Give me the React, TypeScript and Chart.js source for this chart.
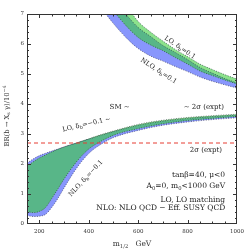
import React, { useEffect, useRef } from "react";
import { Chart, registerables } from "chart.js";
Chart.register(...registerables);

// ---- data ----
const upperX = [450, 500, 550, 600, 650, 700, 750, 800, 850, 900, 950, 1000];
const upperNloLow = [7.2, 6.68, 6.22, 5.85, 5.6, 5.43, 5.25, 5.08, 4.9, 4.76, 4.64, 4.53];
const upperNloHigh = [7.9, 7.45, 6.99, 6.55, 6.25, 5.95, 5.72, 5.48, 5.22, 5.03, 4.85, 4.7];
const upperLoLow = [7.6, 7.1, 6.62, 6.22, 5.97, 5.78, 5.55, 5.33, 5.1, 4.95, 4.8, 4.67];
const upperLoHigh = [8.2, 7.8, 7.3, 6.75, 6.4, 6.1, 5.82, 5.58, 5.33, 5.15, 4.98, 4.83];

const lowerX = [150, 175, 200, 225, 250, 275, 300, 350, 400, 450, 500, 600, 700, 800, 900, 1000];
const lowerNloLow = [0.28, 0.25, 0.26, 0.32, 0.55, 0.85, 1.2, 1.85, 2.35, 2.66, 2.88, 3.12, 3.29, 3.4, 3.48, 3.54];
const lowerNloHigh = [2.03, 2.17, 2.28, 2.36, 2.43, 2.5, 2.57, 2.7, 2.83, 2.96, 3.08, 3.29, 3.43, 3.52, 3.58, 3.63];
const lowerLoLow = [0.42, 0.38, 0.42, 0.55, 0.85, 1.17, 1.5, 2.07, 2.5, 2.76, 2.96, 3.18, 3.34, 3.45, 3.52, 3.58];
const lowerLoHigh = [1.93, 2.07, 2.2, 2.3, 2.4, 2.49, 2.57, 2.7, 2.84, 2.98, 3.1, 3.32, 3.46, 3.55, 3.61, 3.66];

const expt2Sigma = 2.7;
const xRange = [150, 1000];
const yRange = [0, 7];
const xTickLabels = [200, 400, 600, 800, 1000];
const yTickLabels = [0, 1, 2, 3, 4, 5, 6, 7];

const BLUE = "rgb(136,150,252)";
const LIGHTGREEN = "rgb(140,226,140)";
const DARKGREEN = "rgb(88,182,136)";
const SERIF = "'DejaVu Serif', serif";

type Seg = { t: string; s?: "sub" | "sup" };

function pts(xs: number[], ys: number[]) {
  return xs.map((x, i) => ({ x, y: ys[i] }));
}

function band(xs: number[], lo: number[], hi: number[], color: string, order: number, base: number) {
  return [
    { data: pts(xs, lo), borderWidth: 0, pointRadius: 0, fill: false, order, cubicInterpolationMode: "monotone" },
    {
      data: pts(xs, hi),
      borderWidth: 0,
      pointRadius: 0,
      fill: { target: base },
      backgroundColor: color,
      order,
      cubicInterpolationMode: "monotone",
    },
  ];
}

function dotted(xs: number[], ys: number[]) {
  return {
    data: pts(xs, ys),
    borderWidth: 0.8,
    borderColor: "rgba(20,20,50,0.7)",
    borderDash: [1, 1.5],
    pointRadius: 0,
    fill: false,
    order: 1,
    cubicInterpolationMode: "monotone",
  };
}

function segFont(size: number, s?: string) {
  return `${s ? size * 0.7 : size}px ${SERIF}`;
}
function richWidth(ctx: CanvasRenderingContext2D, segs: Seg[], size: number) {
  let w = 0;
  for (const g of segs) {
    ctx.font = segFont(size, g.s);
    w += ctx.measureText(g.t).width;
  }
  return w;
}
function drawRich(ctx: CanvasRenderingContext2D, segs: Seg[], x: number, y: number, size: number, align: "left" | "center" | "right") {
  const w = richWidth(ctx, segs, size);
  let cx = align === "left" ? x : align === "center" ? x - w / 2 : x - w;
  ctx.textAlign = "left";
  ctx.textBaseline = "middle";
  for (const g of segs) {
    ctx.font = segFont(size, g.s);
    const dy = g.s === "sub" ? size * 0.3 : g.s === "sup" ? -size * 0.35 : 0;
    ctx.fillText(g.t, cx, y + dy);
    cx += ctx.measureText(g.t).width;
  }
}

const notes: { segs: Seg[]; x: number; y: number; rot: number; size: number; align?: "left" | "center" | "right" }[] = [
  { segs: [{ t: "LO, δ" }, { t: "b", s: "sub" }, { t: "=0.1" }], x: 769, y: 5.88, rot: 34, size: 6.5 },
  { segs: [{ t: "NLO, δ" }, { t: "b", s: "sub" }, { t: "=0.1" }], x: 683, y: 5.1, rot: 33, size: 6.5 },
  { segs: [{ t: "LO, δ" }, { t: "b", s: "sub" }, { t: "=−0.1 ~" }], x: 391, y: 3.32, rot: -13, size: 6.5 },
  { segs: [{ t: "NLO, δ" }, { t: "b", s: "sub" }, { t: "=−0.1" }], x: 388, y: 1.52, rot: -47, size: 6.5 },
  { segs: [{ t: "SM ~" }], x: 525, y: 3.9, rot: 0, size: 7 },
  { segs: [{ t: "~ 2σ (expt)" }], x: 866, y: 3.9, rot: 0, size: 7 },
  { segs: [{ t: "2σ (expt)" }], x: 874, y: 2.47, rot: 0, size: 7 },
  { segs: [{ t: "tanβ=40, μ<0" }], x: 952, y: 1.63, rot: 0, size: 7.5, align: "right" },
  { segs: [{ t: "A" }, { t: "0", s: "sub" }, { t: "=0, m" }, { t: "0", s: "sub" }, { t: "<1000 GeV" }], x: 952, y: 1.27, rot: 0, size: 7.5, align: "right" },
  { segs: [{ t: "LO, LO matching" }], x: 952, y: 0.8, rot: 0, size: 7.5, align: "right" },
  { segs: [{ t: "NLO: NLO QCD − Eff. SUSY QCD" }], x: 952, y: 0.52, rot: 0, size: 7.5, align: "right" },
];

const decor = {
  id: "decor",
  afterDatasetsDraw(chart: any) {
    const { ctx, chartArea: a, scales } = chart;
    const xs = scales.x;
    const ys = scales.y;
    ctx.save();
    ctx.strokeStyle = "#333";
    ctx.lineWidth = 1;
    ctx.strokeRect(Math.round(a.left) + 0.5, Math.round(a.top) + 0.5, Math.round(a.right - a.left) - 1, Math.round(a.bottom - a.top) - 1);
    for (let v = 200; v < 1000; v += 50) {
      const px = Math.round(xs.getPixelForValue(v)) + 0.5;
      const len = v % 200 === 0 ? 4 : 2.5;
      ctx.beginPath();
      ctx.moveTo(px, a.bottom);
      ctx.lineTo(px, a.bottom - len);
      ctx.moveTo(px, a.top);
      ctx.lineTo(px, a.top + len);
      ctx.stroke();
    }
    for (let k = 1; k < 35; k++) {
      const v = k * 0.2;
      const py = Math.round(ys.getPixelForValue(v)) + 0.5;
      const len = k % 5 === 0 ? 4 : 2;
      ctx.beginPath();
      ctx.moveTo(a.left, py);
      ctx.lineTo(a.left + len, py);
      ctx.moveTo(a.right, py);
      ctx.lineTo(a.right - len, py);
      ctx.stroke();
    }
    ctx.fillStyle = "#222";
    for (const n of notes) {
      const px = xs.getPixelForValue(n.x);
      const py = ys.getPixelForValue(n.y);
      ctx.save();
      ctx.translate(px, py);
      ctx.rotate((n.rot * Math.PI) / 180);
      drawRich(ctx, n.segs, 0, 0, n.size, n.align || "center");
      ctx.restore();
    }
    ctx.fillStyle = "#333";
    drawRich(ctx, [{ t: "m" }, { t: "1/2", s: "sub" }, { t: "   GeV" }], (a.left + a.right) / 2, a.bottom + 20, 7.5, "center");
    ctx.save();
    ctx.translate(a.left - 20, 116);
    ctx.rotate(-Math.PI / 2);
    drawRich(ctx, [{ t: "BR(b → X" }, { t: "s", s: "sub" }, { t: " γ)/10" }, { t: "−4", s: "sup" }], 0, 0, 6.8, "center");
    ctx.restore();
    ctx.restore();
  },
};

export default function App() {
  const ref = useRef<HTMLCanvasElement | null>(null);
  useEffect(() => {
    if (!ref.current) return;
    const uOvLow = upperX.map((_, i) => Math.max(upperNloLow[i], upperLoLow[i]));
    const uOvHigh = upperX.map((_, i) => Math.max(uOvLow[i], Math.min(upperNloHigh[i], upperLoHigh[i])));
    const lOvLow = lowerX.map((_, i) => Math.max(lowerNloLow[i], lowerLoLow[i]));
    const lOvHigh = lowerX.map((_, i) => Math.max(lOvLow[i], Math.min(lowerNloHigh[i], lowerLoHigh[i])));
    const datasets: any[] = [
      ...band(upperX, upperNloLow, upperNloHigh, BLUE, 10, 0),
      ...band(upperX, upperLoLow, upperLoHigh, LIGHTGREEN, 9, 2),
      ...band(upperX, uOvLow, uOvHigh, DARKGREEN, 8, 4),
      ...band(lowerX, lowerNloLow, lowerNloHigh, BLUE, 10, 6),
      ...band(lowerX, lowerLoLow, lowerLoHigh, LIGHTGREEN, 9, 8),
      ...band(lowerX, lOvLow, lOvHigh, DARKGREEN, 8, 10),
      dotted(upperX, upperNloLow),
      dotted(upperX, upperNloHigh),
      dotted(upperX, upperLoLow),
      dotted(upperX, upperLoHigh),
      dotted(lowerX, lowerNloLow),
      dotted(lowerX, lowerNloHigh),
      dotted(lowerX, lowerLoLow),
      dotted(lowerX, lowerLoHigh),
      {
        data: [
          { x: xRange[0], y: expt2Sigma },
          { x: xRange[1], y: expt2Sigma },
        ],
        borderColor: "rgb(230,60,50)",
        borderWidth: 1,
        borderDash: [4, 3],
        pointRadius: 0,
        fill: false,
        order: 0,
      },
    ];
    const chart = new Chart(ref.current, {
      type: "line",
      data: { datasets },
      options: {
        animation: false,
        responsive: false,
        events: [],
        layout: { padding: { top: 14, right: 14, left: 0, bottom: 0 } },
        plugins: { legend: { display: false }, tooltip: { enabled: false } },
        scales: {
          x: {
            type: "linear",
            min: xRange[0],
            max: xRange[1],
            grid: { display: false, drawTicks: false },
            border: { display: false },
            afterBuildTicks: (s: any) => {
              s.ticks = xTickLabels.map((v) => ({ value: v }));
            },
            afterFit: (s: any) => {
              s.height = 27;
            },
            ticks: {
              font: { family: SERIF, size: 5.5 },
              color: "#333",
              padding: 4,
              maxRotation: 0,
              autoSkip: false,
              callback: (v: any) => String(v),
            },
          },
          y: {
            type: "linear",
            min: yRange[0],
            max: yRange[1],
            grid: { display: false, drawTicks: false },
            border: { display: false },
            afterBuildTicks: (s: any) => {
              s.ticks = yTickLabels.map((v) => ({ value: v }));
            },
            afterFit: (s: any) => {
              s.width = 27;
            },
            ticks: { font: { family: SERIF, size: 5.5 }, color: "#333", padding: 3, autoSkip: false, callback: (v: any) => String(v) },
          },
        },
      },
      plugins: [decor],
    });
    return () => chart.destroy();
  }, []);
  return (
    <div style={{ position: "fixed", left: 0, top: 0, width: 251, height: 251, background: "#fff" }}>
      <canvas ref={ref} width={251} height={251} style={{ width: 251, height: 251 }} />
    </div>
  );
}
